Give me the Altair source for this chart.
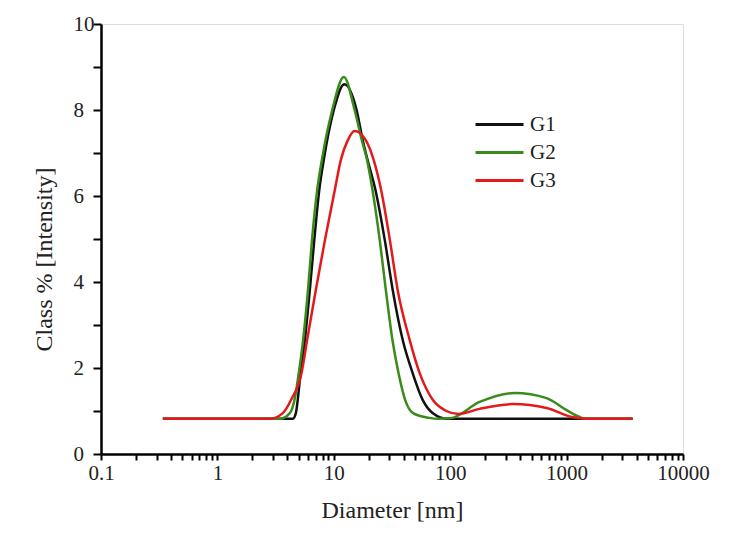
import altair as alt
import pandas as pd

series = ["G1", "G2", "G3"]
colors = ["#111111", "#3a8a1c", "#e3191b"]

g1_x = [0.34, 4.45, 4.72, 4.9, 5.18, 5.64, 6.22, 6.8, 7.5, 8.2, 10.0, 12.3, 15.7, 17.7, 19.5, 22.8, 27.4, 32.1, 39.1, 47.6, 58.0, 71.0, 95.0, 3690]
g1_y = [0.82, 0.82, 0.95, 1.26, 1.88, 2.65, 3.81, 4.98, 6.14, 6.84, 8.0, 8.6, 8.0, 7.3, 6.84, 6.14, 4.98, 3.81, 2.65, 1.88, 1.26, 0.95, 0.82, 0.82]

g2_x = [0.34, 3.44, 4.19, 4.6, 5.0, 5.45, 6.0, 6.5, 7.2, 7.9, 9.7, 12.2, 15.1, 17.4, 19.3, 21.5, 24.8, 28.0, 31.9, 36.0, 41.0, 48.0, 66.0, 80.0, 100, 179, 358, 673, 1000, 1294, 1450, 3690]
g2_y = [0.82, 0.82, 0.95, 1.26, 1.88, 2.65, 3.81, 4.98, 6.14, 6.84, 8.0, 8.77, 8.0, 7.3, 6.84, 6.14, 4.98, 3.81, 2.65, 1.88, 1.26, 0.95, 0.84, 0.82, 0.83, 1.21, 1.42, 1.30, 1.02, 0.86, 0.82, 0.82]

g3_x = [0.34, 2.82, 3.65, 4.3, 5.28, 5.9, 7.0, 8.4, 10.2, 11.5, 13.2, 15.1, 18.8, 22.0, 25.5, 30.3, 35.4, 44.9, 54.7, 70.8, 92.7, 118, 179, 344, 673, 1110, 1500, 3690]
g3_y = [0.82, 0.82, 0.95, 1.26, 1.88, 2.65, 3.81, 4.98, 6.14, 6.84, 7.3, 7.51, 7.3, 6.84, 6.14, 4.98, 3.81, 2.65, 1.88, 1.26, 1.0, 0.93, 1.05, 1.16, 1.07, 0.86, 0.82, 0.82]

x_ticks = [0.1, 0.2, 0.3, 0.4, 0.5, 0.6, 0.7, 0.8, 0.9,
           1, 2, 3, 4, 5, 6, 7, 8, 9,
           10, 20, 30, 40, 50, 60, 70, 80, 90,
           100, 200, 300, 400, 500, 600, 700, 800, 900,
           1000, 2000, 3000, 4000, 5000, 6000, 7000, 8000, 9000, 10000]
y_ticks = [0, 1, 2, 3, 4, 5, 6, 7, 8, 9, 10]

rows = []
for name, xs, ys in [("G1", g1_x, g1_y), ("G2", g2_x, g2_y), ("G3", g3_x, g3_y)]:
    for i, (xv, yv) in enumerate(zip(xs, ys)):
        rows.append({"series": name, "d": xv, "c": yv, "i": i})
df = pd.DataFrame(rows)

FONT = "Liberation Serif, Times New Roman, DejaVu Serif, serif"

chart = alt.Chart(df).mark_line(strokeWidth=2.5, interpolate="monotone").encode(
    x=alt.X("d:Q",
            scale=alt.Scale(type="log", domain=[0.1, 10000], nice=False),
            axis=alt.Axis(values=x_ticks, format="~g", title="Diameter [nm]",
                          labelExpr="abs(log(datum.value)/log(10) - round(log(datum.value)/log(10))) < 0.000001 ? datum.label : ''",
                          labelOverlap=False, labelFlush=False, grid=False,
                          tickSize=6, tickWidth=2, domainWidth=2.5,
                          domainColor="black", tickColor="black",
                          labelFont=FONT, labelFontSize=21, labelColor="#222",
                          labelPadding=2,
                          titleFont=FONT, titleFontSize=24, titleFontWeight="normal",
                          titleColor="#222", titleBaseline="alphabetic", titleY=63)),
    y=alt.Y("c:Q",
            scale=alt.Scale(domain=[0, 10], nice=False),
            axis=alt.Axis(values=y_ticks, title="Class % [Intensity]",
                          labelExpr="datum.value % 2 == 0 ? datum.label : ''",
                          labelAlign="left", labelPadding=20, labelBaseline="middle",
                          grid=False, tickSize=8, tickWidth=2, domainWidth=2.5,
                          domainColor="black", tickColor="black",
                          labelFont=FONT, labelFontSize=21, labelColor="#222",
                          titleFont=FONT, titleFontSize=24, titleFontWeight="normal",
                          titleColor="#222", titleAngle=-90, titleBaseline="middle",
                          titleAlign="center", titleX=-57, titleY=235)),
    color=alt.Color("series:N",
                    scale=alt.Scale(domain=series, range=colors),
                    legend=alt.Legend(title=None, orient="none", legendX=388, legendY=90,
                                      symbolType="M-4.8,0H4.8", symbolSize=100,
                                      symbolStrokeWidth=3, labelOffset=20,
                                      labelFont=FONT, labelFontSize=21, labelColor="#222",
                                      rowPadding=6)),
    order="i:Q",
).properties(
    width=582, height=430,
    autosize=alt.AutoSizeParams(type="none"),
    padding={"left": 93, "top": 16, "right": 40, "bottom": 74},
).configure_view(stroke=None).configure(background="white")

chart.save("out.html", embed_options={"renderer": "svg", "actions": False})
